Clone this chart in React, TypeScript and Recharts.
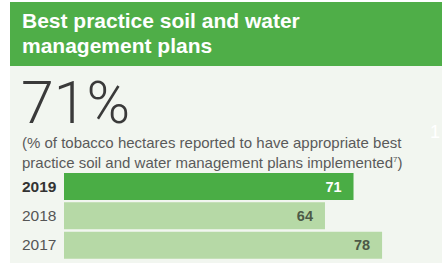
import { BarChart, Bar, XAxis, YAxis, Cell, LabelList } from 'recharts';

const years = ['2019', '2018', '2017'];
const values = [71, 64, 78];

const data = years.map((year, i) => ({ year, value: values[i] }));

const font = '"Liberation Sans", Arial, sans-serif';

const YearTick = (props: any) => {
    const { y, payload } = props;
    return (
        <text x={22} y={y} dy={5} textAnchor="start" fontSize={15.5} fontFamily={font}
            fontWeight={payload.value === '2019' ? 700 : 400} fill={payload.value === '2019' ? '#333' : '#555'}>
            {payload.value}
        </text>
    );
};

const ValueLabel = (props: any) => {
    const { x, y, width, height, value, index } = props;
    return (
        <text x={x + width - 12} y={y + height / 2} dy={5} textAnchor="end" fontSize={14.5}
            fontFamily={font} fontWeight={700} fill={index === 0 ? '#fff' : '#4d5a47'}>
            {value}
        </text>
    );
};

export default function App() {
    return (
        <div style={{ position: 'absolute', left: 0, top: 0, width: 442, height: 269, background: '#fff', overflow: 'hidden', fontFamily: font }}>
            <div style={{ position: 'absolute', left: 10, top: 2, width: 432, height: 64, background: '#4fae48' }}>
                <div style={{ position: 'absolute', left: 12, top: 6, color: '#fff', fontWeight: 700, fontSize: 21, lineHeight: '25px', whiteSpace: 'nowrap' }}>
                    Best practice soil and water<br />management plans
                </div>
            </div>
            <div style={{ position: 'absolute', left: 10, top: 66, width: 432, height: 197, background: '#f2f6f0' }} />
            <div style={{ position: 'absolute', left: 21, top: 71, fontSize: 59, lineHeight: '64px', color: '#3a3a3a', fontWeight: 300, fontFamily: 'Roboto, sans-serif' }}>
                71%
            </div>
            <div style={{ position: 'absolute', left: 22, top: 134, fontSize: 15, lineHeight: '17px', color: '#5a5a5a', width: 420, whiteSpace: 'nowrap' }}>
                (% of tobacco hectares reported to have appropriate best<br />practice soil and water management plans implemented<sup style={{ fontSize: 8 }}>7</sup>)
            </div>
            <div style={{ position: 'absolute', left: 430, top: 122, fontSize: 18, color: '#fff' }}>1</div>
            <div style={{ position: 'absolute', left: 0, top: 172 }}>
                <BarChart width={442} height={88} data={data} layout="vertical"
                    margin={{ top: 0, right: 11, bottom: 0, left: 0 }} barCategoryGap={1}>
                    <XAxis type="number" domain={[0, 90]} hide />
                    <YAxis type="category" dataKey="year" width={64} axisLine={false} tickLine={false} tick={<YearTick />} />
                    <Bar dataKey="value" isAnimationActive={false}>
                        {data.map((d, i) => (
                            <Cell key={d.year} fill={i === 0 ? '#4aad45' : '#b6d9a6'} />
                        ))}
                        <LabelList dataKey="value" content={<ValueLabel />} />
                    </Bar>
                </BarChart>
            </div>
        </div>
    );
}
